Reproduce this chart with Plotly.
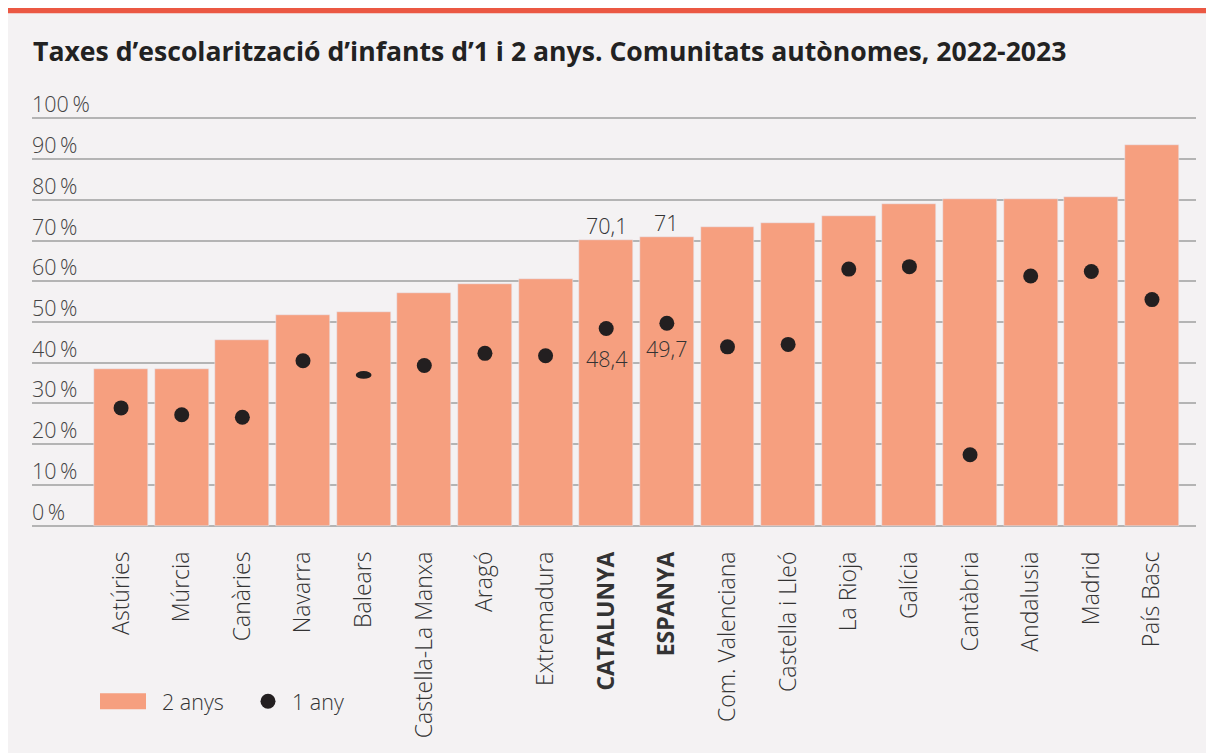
import plotly.graph_objects as go

# ---- data ----
categories = ["Astúries", "Múrcia", "Canàries", "Navarra", "Balears", "Castella-La Manxa",
              "Aragó", "Extremadura", "CATALUNYA", "ESPANYA", "Com. Valenciana",
              "Castella i Lleó", "La Rioja", "Galícia", "Cantàbria", "Andalusia",
              "Madrid", "País Basc"]
bold_categories = ["CATALUNYA", "ESPANYA"]
two_years = [38.5, 38.5, 45.6, 51.7, 52.5, 57.1, 59.3, 60.5, 70.1, 71.0, 73.3,
             74.3, 76.1, 78.9, 80.1, 80.1, 80.6, 93.4]
one_year = [28.9, 27.2, 26.6, 40.5, 37.0, 39.3, 42.3, 41.7, 48.4, 49.7, 43.9,
            44.5, 63.0, 63.6, 17.4, 61.3, 62.4, 55.5]
flattened_dot = "Balears"
y_ticks = [0, 10, 20, 30, 40, 50, 60, 70, 80, 90, 100]
title_text = "Taxes d’escolarització d’infants d’1 i 2 anys. Comunitats autònomes, 2022-2023"
legend_labels = ["2 anys", "1 any"]

BAR_COLOR = "#F69F7F"
DOT_COLOR = "#231F20"
BG = "#F4F2F3"
FONT = "Open Sans"

# the page body adds an 8px margin; figure occupies window x 8..1214, y 8..753
OFF = 8
W, H = 1214 - OFF, 753 - OFF
Y_PAD = 0.6            # axis padding (in %) so the 0 % and 100 % gridlines are drawn
PX_PER_PCT = 4.08
PADPX = Y_PAD * PX_PER_PCT
L, R = 24, 18
T, B = 110 - PADPX, 227 - PADPX   # 100 % at figure y 110, 0 % at figure y 518
PW = W - L - R
PH = H - T - B

def px(x):
    return (x - OFF - L) / PW

def py(y):
    return (H - B - (y - OFF)) / PH

xs = list(range(len(categories)))
ticktext = [f"<b>{c}</b>" if c in bold_categories else c for c in categories]

fig = go.Figure()
fig.add_trace(go.Bar(x=xs, y=two_years, marker_color=BAR_COLOR, width=0.89,
                     name=legend_labels[0], hoverinfo="y"))
dot_y = [None if c == flattened_dot else v for c, v in zip(categories, one_year)]
fig.add_trace(go.Scatter(x=xs, y=dot_y, mode="markers", name=legend_labels[1],
                         marker=dict(color=DOT_COLOR, size=15, line=dict(width=0))))

shapes = []
# red top rule
shapes.append(dict(type="rect", xref="paper", yref="paper", x0=px(0), x1=px(1220), y0=py(12.5), y1=py(7),
                   fillcolor="#EB5843", line_width=0, layer="below"))
# flattened dot (Balears)
bi = categories.index(flattened_dot)
bv = one_year[bi]
shapes.append(dict(type="circle", xref="x", yref="y", x0=bi - 0.13, x1=bi + 0.13,
                   y0=bv - 0.95, y1=bv + 0.95, fillcolor=DOT_COLOR, line_width=0, layer="above"))
# legend marks
shapes.append(dict(type="rect", xref="paper", yref="paper", x0=px(100), x1=px(146), y0=py(710), y1=py(694),
                   fillcolor=BAR_COLOR, line_width=0))
shapes.append(dict(type="circle", xref="paper", yref="paper", x0=px(260.5), x1=px(275.5), y0=py(709.5), y1=py(694.5),
                   fillcolor=DOT_COLOR, line_width=0))

LIGHT = dict(family=FONT, size=21.5, color="#333333", weight=300)

annotations = []
annotations.append(dict(text=f"<b>{title_text}</b>", xref="paper", yref="paper", x=px(31), y=py(50),
                        xanchor="left", yanchor="middle", showarrow=False,
                        font=dict(family=FONT, size=26.6, color="#222222")))
for t in y_ticks:
    annotations.append(dict(text=f"{t}\u2009%", xref="paper", yref="y", x=0, y=t, xanchor="left",
                            yanchor="bottom", yshift=-2, xshift=-2, showarrow=False,
                            font=dict(family=FONT, size=21.5, color="#444444", weight=300)))
# value labels for Catalunya and Espanya
dot_label_shift = {"CATALUNYA": -30, "ESPANYA": -25}
for c in bold_categories:
    i = categories.index(c)
    bar_lbl = f"{two_years[i]:g}".replace(".", ",")
    dot_lbl = f"{one_year[i]:g}".replace(".", ",")
    annotations.append(dict(text=bar_lbl, x=i, y=two_years[i], xref="x", yref="y", yanchor="bottom",
                            yshift=-2, showarrow=False, font=LIGHT))
    annotations.append(dict(text=dot_lbl, x=i, y=one_year[i], xref="x", yref="y", yanchor="middle",
                            yshift=dot_label_shift[c], showarrow=False, font=LIGHT))
# legend text
annotations.append(dict(text=legend_labels[0], xref="paper", yref="paper", x=px(160), y=py(702),
                        xanchor="left", yanchor="middle", showarrow=False, font=LIGHT))
annotations.append(dict(text=legend_labels[1], xref="paper", yref="paper", x=px(290), y=py(702),
                        xanchor="left", yanchor="middle", showarrow=False, font=LIGHT))

fig.update_layout(
    width=W, height=H,
    margin=dict(l=L, r=R, t=T, b=B, pad=0),
    paper_bgcolor=BG,
    plot_bgcolor="rgba(0,0,0,0)",
    showlegend=False,
    bargap=0,
    shapes=shapes,
    annotations=annotations,
    xaxis=dict(range=[-1.469, 17.726], tickmode="array", tickvals=xs, ticktext=ticktext,
               tickangle=-90, showgrid=False, zeroline=False, showline=False, ticks="",
               ticklabelstandoff=int(round(20 - PADPX)),
               tickfont=dict(family=FONT, size=23, color="#333333", weight=300), fixedrange=True),
    yaxis=dict(range=[-Y_PAD, 100 + Y_PAD], tickmode="array", tickvals=y_ticks, showticklabels=False,
               showgrid=True, gridcolor="#B4B4B4", gridwidth=1.5, zeroline=False, showline=False,
               fixedrange=True),
)

fig.write_html("out.html")
